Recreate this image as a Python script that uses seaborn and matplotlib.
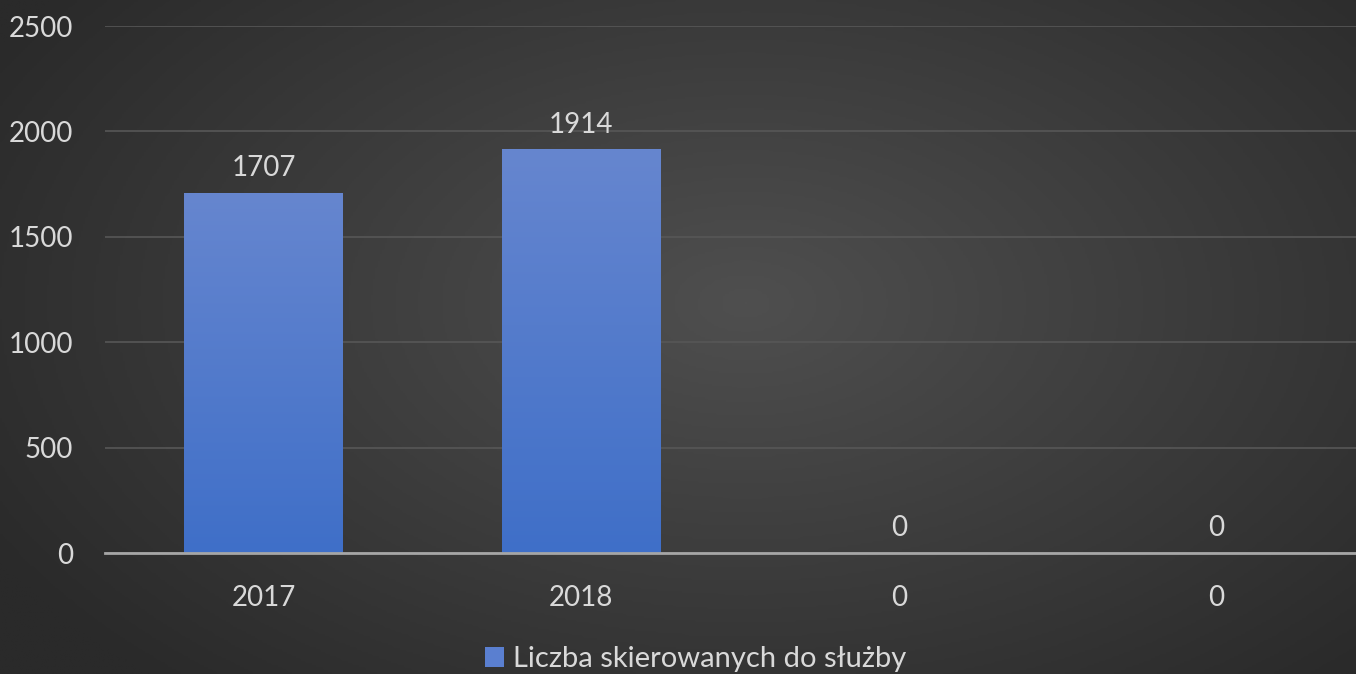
import numpy as np
import pandas as pd
import seaborn as sns
import matplotlib.pyplot as plt
from matplotlib.colors import LinearSegmentedColormap
from matplotlib.patches import Patch

# data
slots = [0, 1, 2, 3]
tick_labels = ["2017", "2018", "0", "0"]
values = [1707, 1914, 0, 0]
series_name = "Liczba skierowanych do służby"

df = pd.DataFrame({"slot": slots, "value": values})

sns.set_style("dark")
plt.rcParams["font.family"] = ["Lato", "DejaVu Sans"]
text_color = "#d9d9d9"
fs = 20

fig = plt.figure(figsize=(13.56, 6.74), dpi=100)

# radial dark background
bg = fig.add_axes([0, 0, 1, 1], zorder=-1)
yy, xx = np.mgrid[0:1:300j, 0:1:600j]
r = np.sqrt(((xx - 0.55) / 0.75) ** 2 + ((yy - 0.45) / 0.9) ** 2)
bg_cmap = LinearSegmentedColormap.from_list("bg", ["#4f4f4f", "#2a2a2a"])
bg.imshow(r, cmap=bg_cmap, vmin=0, vmax=0.85, aspect="auto", extent=[0, 1, 0, 1])
bg.axis("off")

ax = fig.add_axes([0.0774, 0.1795, 0.9366, 0.7819])
ax.set_facecolor("none")

sns.barplot(data=df, x="slot", y="value", width=0.5, color="#5a7fd0", ax=ax)

# vertical gradient fill on each bar
bar_cmap = LinearSegmentedColormap.from_list("bar", ["#3f6fc8", "#6686cf"])
grad = np.linspace(0, 1, 256).reshape(-1, 1)
for p in ax.patches:
    x0, w, h = p.get_x(), p.get_width(), p.get_height()
    if h > 0:
        ax.imshow(grad, cmap=bar_cmap, aspect="auto", origin="lower",
                  extent=[x0, x0 + w, 0, h], zorder=2)
    p.set_visible(False)

for i, v in enumerate(values):
    ax.annotate(str(v), (i, v), xytext=(0, 18), textcoords="offset points",
                ha="center", va="center", color=text_color, fontsize=fs)

ax.set_xlim(-0.5, 3.5)
ax.set_ylim(0, 2500)
ax.set_yticks([0, 500, 1000, 1500, 2000, 2500])
ax.set_xticks(slots)
ax.set_xticklabels(tick_labels)
ax.set_xlabel("")
ax.set_ylabel("")
ax.tick_params(axis="y", length=0, pad=23, labelsize=fs, labelcolor=text_color)
ax.tick_params(axis="x", length=0, pad=23, labelsize=fs, labelcolor=text_color)
ax.grid(axis="y", color="#575757", linewidth=1.2)
ax.grid(axis="x", visible=False)
for side in ["top", "right", "left"]:
    ax.spines[side].set_visible(False)
ax.spines["bottom"].set_color("#a6a6a6")
ax.spines["bottom"].set_linewidth(2)
ax.spines["bottom"].set_zorder(3)

handle = Patch(facecolor="#5a7fd0", edgecolor="none")
fig.legend([handle], [series_name], loc="center", bbox_to_anchor=(0.513, 0.022),
           frameon=False, fontsize=21, labelcolor=text_color,
           handlelength=0.65, handleheight=0.65, handletextpad=0.3)

fig.savefig("out.png", dpi=100)
